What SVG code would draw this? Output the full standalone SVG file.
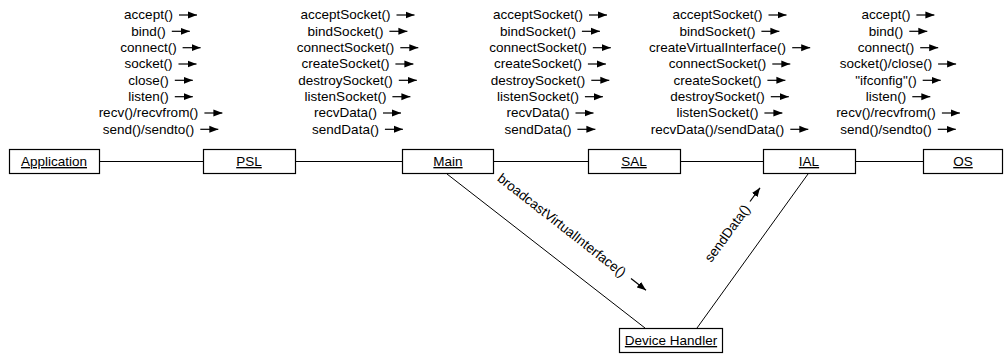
<svg xmlns="http://www.w3.org/2000/svg" width="1005" height="356" viewBox="0 0 1005 356">
<defs>
<marker id="ah" markerUnits="userSpaceOnUse" markerWidth="9" markerHeight="8" viewBox="0 0 9 8" refX="9" refY="4" orient="auto">
<path d="M0,0.5 L9,4 L0,7.5 z" fill="#000"/>
</marker>
<style>
text{font-family:"Liberation Sans",Arial,sans-serif;font-size:13.5px;fill:#000}
.lbl{text-anchor:middle}
.nm{text-anchor:middle;text-decoration:underline}
.box{fill:#fff;stroke:#000;stroke-width:1.2}
.ln{stroke:#000;stroke-width:1;fill:none}
.ar{stroke:#000;stroke-width:1.2;fill:none;marker-end:url(#ah)}
</style>
</defs>
<rect width="1005" height="356" fill="#fff"/>
<g id="connectors">
<path class="ln" d="M99,161.5 H203 M295,161.5 H402 M494,161.5 H588 M680,161.5 H763 M855,161.5 H923"/>
<path class="ln" d="M447,174 L645,328 M808,174 L697,328"/>
</g>
<g id="messages">
<g id="col1">
<text class="lbl" x="148.5" y="19.3">accept()</text>
<text class="lbl" x="148.5" y="35.6">bind()</text>
<text class="lbl" x="148.5" y="52">connect()</text>
<text class="lbl" x="148.5" y="68.3">socket()</text>
<text class="lbl" x="148.5" y="84.6">close()</text>
<text class="lbl" x="148.5" y="101">listen()</text>
<text class="lbl" x="148.5" y="117.3">recv()/recvfrom()</text>
<text class="lbl" x="148.5" y="133.6">send()/sendto()</text>
<path class="ar" d="M179,15 H197"/>
<path class="ar" d="M171.8,31.3 H189.8"/>
<path class="ar" d="M182.6,47.7 H200.6"/>
<path class="ar" d="M178.5,64 H196.5"/>
<path class="ar" d="M174.8,80.3 H192.8"/>
<path class="ar" d="M174.8,96.7 H192.8"/>
<path class="ar" d="M204.4,113 H222.4"/>
<path class="ar" d="M200.3,129.3 H218.3"/>
</g>
<g id="col2">
<text class="lbl" x="345.5" y="19.3">acceptSocket()</text>
<text class="lbl" x="345.5" y="35.6">bindSocket()</text>
<text class="lbl" x="345.5" y="52">connectSocket()</text>
<text class="lbl" x="345.5" y="68.3">createSocket()</text>
<text class="lbl" x="345.5" y="84.6">destroySocket()</text>
<text class="lbl" x="345.5" y="101">listenSocket()</text>
<text class="lbl" x="345.5" y="117.3">recvData()</text>
<text class="lbl" x="345.5" y="133.6">sendData()</text>
<path class="ar" d="M396.5,15 H414.5"/>
<path class="ar" d="M389.4,31.3 H407.4"/>
<path class="ar" d="M400.3,47.7 H418.3"/>
<path class="ar" d="M395.4,64 H413.4"/>
<path class="ar" d="M398.8,80.3 H416.8"/>
<path class="ar" d="M392.4,96.7 H410.4"/>
<path class="ar" d="M383,113 H401"/>
<path class="ar" d="M384.9,129.3 H402.9"/>
</g>
<g id="col3">
<text class="lbl" x="538" y="19.3">acceptSocket()</text>
<text class="lbl" x="538" y="35.6">bindSocket()</text>
<text class="lbl" x="538" y="52">connectSocket()</text>
<text class="lbl" x="538" y="68.3">createSocket()</text>
<text class="lbl" x="538" y="84.6">destroySocket()</text>
<text class="lbl" x="538" y="101">listenSocket()</text>
<text class="lbl" x="538" y="117.3">recvData()</text>
<text class="lbl" x="538" y="133.6">sendData()</text>
<path class="ar" d="M589,15 H607"/>
<path class="ar" d="M581.9,31.3 H599.9"/>
<path class="ar" d="M592.8,47.7 H610.8"/>
<path class="ar" d="M587.9,64 H605.9"/>
<path class="ar" d="M591.3,80.3 H609.3"/>
<path class="ar" d="M584.9,96.7 H602.9"/>
<path class="ar" d="M575.5,113 H593.5"/>
<path class="ar" d="M577.4,129.3 H595.4"/>
</g>
<g id="col4">
<text class="lbl" x="717.5" y="19.3">acceptSocket()</text>
<text class="lbl" x="717.5" y="35.6">bindSocket()</text>
<text class="lbl" x="717.5" y="52">createVirtualInterface()</text>
<text class="lbl" x="717.5" y="68.3">connectSocket()</text>
<text class="lbl" x="717.5" y="84.6">createSocket()</text>
<text class="lbl" x="717.5" y="101">destroySocket()</text>
<text class="lbl" x="717.5" y="117.3">listenSocket()</text>
<text class="lbl" x="717.5" y="133.6">recvData()/sendData()</text>
<path class="ar" d="M768.5,15 H786.5"/>
<path class="ar" d="M761.4,31.3 H779.4"/>
<path class="ar" d="M792.2,47.7 H810.2"/>
<path class="ar" d="M772.3,64 H790.3"/>
<path class="ar" d="M767.4,80.3 H785.4"/>
<path class="ar" d="M770.8,96.7 H788.8"/>
<path class="ar" d="M764.4,113 H782.4"/>
<path class="ar" d="M790.3,129.3 H808.3"/>
</g>
<g id="col5">
<text class="lbl" x="886" y="19.3">accept()</text>
<text class="lbl" x="886" y="35.6">bind()</text>
<text class="lbl" x="886" y="52">connect()</text>
<text class="lbl" x="886" y="68.3">socket()/close()</text>
<text class="lbl" x="886" y="84.6">"ifconfig"()</text>
<text class="lbl" x="886" y="101">listen()</text>
<text class="lbl" x="886" y="117.3">recv()/recvfrom()</text>
<text class="lbl" x="886" y="133.6">send()/sendto()</text>
<path class="ar" d="M916.4,15 H934.4"/>
<path class="ar" d="M909.3,31.3 H927.3"/>
<path class="ar" d="M920.2,47.7 H938.2"/>
<path class="ar" d="M938.1,64 H956.1"/>
<path class="ar" d="M922.7,80.3 H940.7"/>
<path class="ar" d="M912.3,96.7 H930.3"/>
<path class="ar" d="M941.9,113 H959.9"/>
<path class="ar" d="M937.8,129.3 H955.8"/>
</g>
<g id="diag1">
<text class="lbl" transform="translate(559,229) rotate(38)">broadcastVirtualInterface()</text>
<path class="ar" d="M631,278.5 L646,290.2"/>
</g>
<g id="diag2">
<text class="lbl" transform="translate(731,236) rotate(-54)">sendData()</text>
<path class="ar" d="M750,201.5 L760,187.8"/>
</g>
</g>
<g id="node-application"><rect class="box" x="9.5" y="149.5" width="90" height="24"/><text class="nm" x="54" y="166">Application</text></g>
<g id="node-psl"><rect class="box" x="203.5" y="149.5" width="92" height="24"/><text class="nm" x="249" y="166">PSL</text></g>
<g id="node-main"><rect class="box" x="402.5" y="149.5" width="91" height="24"/><text class="nm" x="448" y="166">Main</text></g>
<g id="node-sal"><rect class="box" x="588.5" y="149.5" width="92" height="24"/><text class="nm" x="634" y="166">SAL</text></g>
<g id="node-ial"><rect class="box" x="763.5" y="149.5" width="92" height="24"/><text class="nm" x="809" y="166">IAL</text></g>
<g id="node-os"><rect class="box" x="923.5" y="149.5" width="79" height="24"/><text class="nm" x="963" y="166">OS</text></g>
<g id="node-device-handler"><rect class="box" x="619.5" y="328.5" width="103" height="24"/><text class="nm" x="671" y="345">Device Handler</text></g>
</svg>
